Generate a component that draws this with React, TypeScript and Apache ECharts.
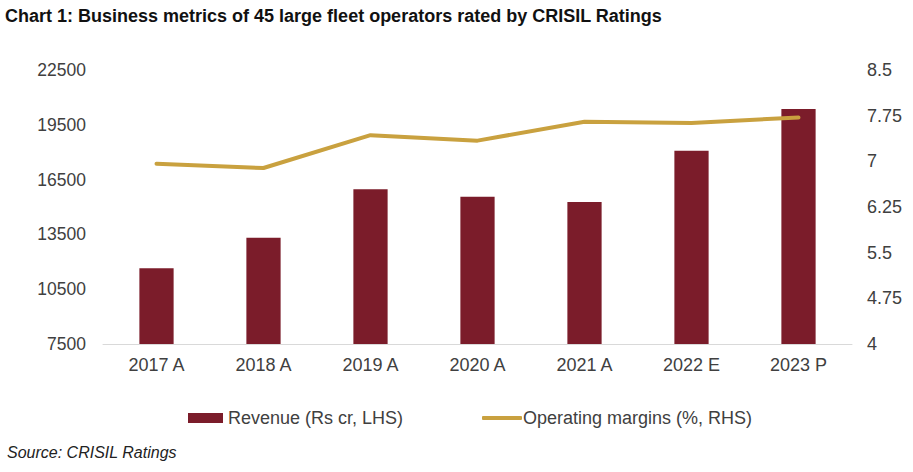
import React, { useEffect, useRef } from "react";
import * as echarts from "echarts";

const categories = ["2017 A", "2018 A", "2019 A", "2020 A", "2021 A", "2022 E", "2023 P"];
const revenue = [11650, 13320, 15970, 15560, 15270, 18080, 20370];
const margins = [6.96, 6.89, 7.43, 7.34, 7.65, 7.63, 7.72];
const leftTicks = { min: 7500, max: 22500, interval: 3000 };
const rightTicks = { min: 4, max: 8.5, interval: 0.75 };

const TEXT = "#404040";
const FONT = "Liberation Sans, Arial, sans-serif";

export default function App() {
  const ref = useRef<HTMLDivElement>(null);
  useEffect(() => {
    if (!ref.current) return;
    const chart = echarts.init(ref.current, undefined, { renderer: "svg" });
    chart.setOption({
      animation: false,
      backgroundColor: "#ffffff",
      textStyle: { fontFamily: FONT },
      title: [
        {
          text: "Chart 1: Business metrics of 45 large fleet operators rated by CRISIL Ratings",
          left: 5,
          top: 7,
          padding: 0,
          textStyle: { fontSize: 18, fontWeight: "bold", color: "#111111", fontFamily: FONT },
        },
        {
          text: "Source: CRISIL Ratings",
          left: 7,
          top: 444,
          padding: 0,
          textStyle: { fontSize: 16, fontStyle: "italic", fontWeight: "normal", color: "#222222", fontFamily: FONT },
        },
      ],
      legend: [
        {
          data: ["Revenue (Rs cr, LHS)"],
          left: 188,
          top: 409,
          padding: 0,
          itemWidth: 35,
          itemHeight: 10,
          icon: "rect",
          itemGap: 5,
          textStyle: { fontSize: 18, color: TEXT, fontFamily: FONT },
        },
        {
          data: ["Operating margins (%, RHS)"],
          left: 482,
          top: 409,
          padding: 0,
          itemWidth: 40,
          itemHeight: 4,
          icon: "roundRect",
          textStyle: { fontSize: 18, color: TEXT, fontFamily: FONT, padding: [0, 0, 0, -4] },
        },
      ],
      grid: { left: 103, right: 61, top: 70, bottom: 128, containLabel: false },
      xAxis: {
        type: "category",
        data: categories,
        axisLine: { lineStyle: { color: "#d9d9d9", width: 1 } },
        axisTick: { show: false },
        axisLabel: { fontSize: 18, color: TEXT, margin: 12, fontFamily: FONT },
      },
      yAxis: [
        {
          type: "value",
          min: leftTicks.min,
          max: leftTicks.max,
          interval: leftTicks.interval,
          splitLine: { show: false },
          axisLine: { show: false },
          axisTick: { show: false },
          axisLabel: {
            fontSize: 17.5,
            color: TEXT,
            margin: 17,
            fontFamily: FONT,
            formatter: (v: number) => String(v),
          },
        },
        {
          type: "value",
          min: rightTicks.min,
          max: rightTicks.max,
          interval: rightTicks.interval,
          splitLine: { show: false },
          axisLine: { show: false },
          axisTick: { show: false },
          axisLabel: {
            fontSize: 18,
            color: TEXT,
            margin: 15,
            fontFamily: FONT,
            formatter: (v: number) => String(v),
          },
        },
      ],
      series: [
        {
          name: "Revenue (Rs cr, LHS)",
          type: "bar",
          data: revenue,
          yAxisIndex: 0,
          barWidth: "32%",
          itemStyle: { color: "#7B1C2A" },
        },
        {
          name: "Operating margins (%, RHS)",
          type: "line",
          data: margins,
          yAxisIndex: 1,
          symbol: "none",
          lineStyle: { color: "#C9A13F", width: 4, cap: "round" },
          itemStyle: { color: "#C9A13F" },
          z: 3,
        },
      ],
    });
    return () => chart.dispose();
  }, []);
  return (
    <div
      ref={ref}
      style={{ position: "absolute", left: 0, top: 0, width: 913, height: 472 }}
    />
  );
}
